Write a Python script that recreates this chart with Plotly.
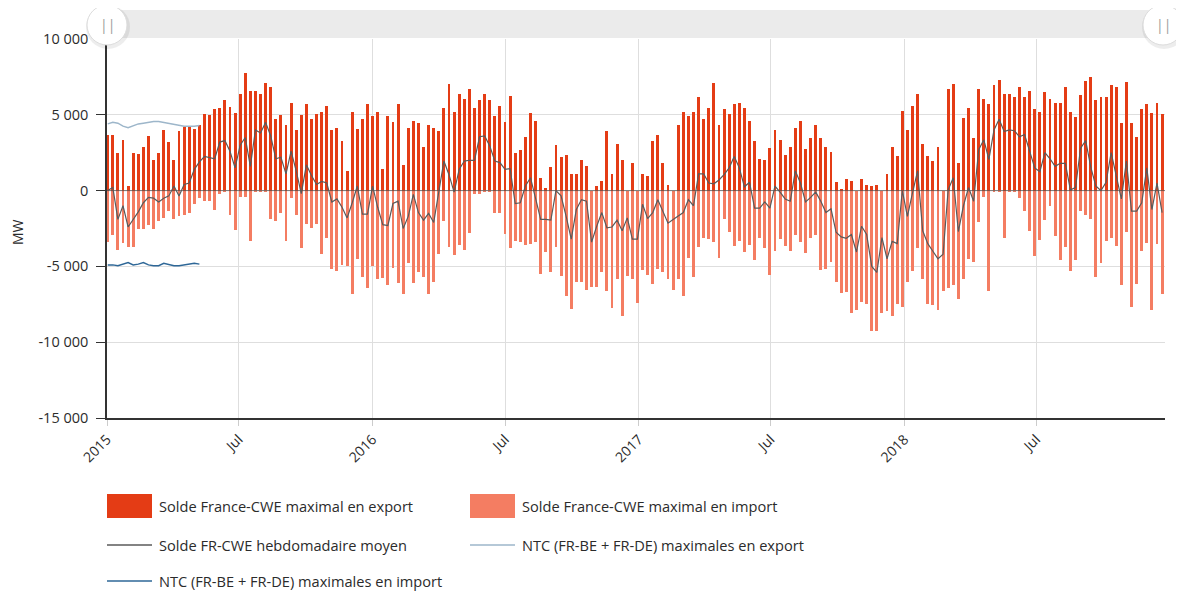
import pandas as pd
import plotly.graph_objects as go

# ---------------- data (MW, weekly from early Jan 2015) ----------------
week_start = "2015-01-02"
n_weeks = 208

export_k = [3.7, 3.7, 2.45, 3.35, 0.3, 2.5, 2.4, 2.9, 3.6, 2.0, 2.45, 4.0, 3.2, 2.0, 3.9, 4.2, 4.2, 4.05, 4.3, 5.05,
            5.0, 5.35, 5.45, 5.95, 5.5, 5.15, 6.4, 7.75, 6.6, 6.6, 6.4, 7.1, 6.85, 4.7, 5.0, 4.3, 5.75, 4.0, 5.0, 5.7,
            4.7, 5.05, 5.2, 5.55, 4.0, 4.15, 3.3, 1.3, 5.2, 4.05, 4.7, 5.7, 4.95, 5.2, 1.45, 4.95, 4.5, 5.7, 1.7, 4.1,
            4.6, 4.45, 2.9, 4.35, 4.1, 3.9, 5.45, 7.05, 5.2, 6.35, 6.05, 6.7, 5.45, 5.95, 6.4, 5.95, 4.9, 5.6, 4.55, 6.25,
            2.45, 2.65, 3.55, 5.1, 4.6, 0.85, 0.2, 1.55, 3.0, 2.2, 2.35, 1.1, 1.1, 2.05, 1.65, 0.0, 0.3, 0.65, 3.9, 1.1,
            3.1, 2.05, 0.0, 1.8, 0.0, 1.1, 0.95, 3.3, 3.7, 1.8, 0.35, 0.0, 4.3, 5.2, 4.9, 5.2, 6.15, 4.7, 5.45, 7.1,
            4.35, 5.35, 5.05, 5.7, 5.75, 5.45, 4.6, 3.3, 2.1, 2.05, 2.8, 4.0, 3.35, 2.35, 2.9, 4.15, 4.6, 2.75, 3.5, 4.35,
            3.5, 2.9, 2.55, 0.55, 0.1, 0.75, 0.65, 0.0, 0.75, 0.4, 0.3, 0.35, 0.0, 1.1, 2.9, 2.3, 5.25, 4.0, 5.6, 6.4,
            3.05, 2.3, 1.95, 2.9, 0.0, 6.7, 7.05, 1.8, 4.8, 5.45, 3.45, 6.7, 6.05, 5.7, 6.95, 7.3, 6.4, 6.4, 6.15, 6.85,
            6.2, 6.6, 5.4, 5.2, 6.5, 6.05, 5.75, 5.75, 6.85, 5.2, 4.85, 6.3, 7.2, 7.5, 5.95, 6.15, 6.15, 6.95, 6.85, 4.45,
            7.15, 4.45, 3.55, 5.4, 5.7, 5.15, 5.75, 5.05]

import_k = [-3.4, -2.9, -3.9, -3.45, -3.75, -3.7, -2.55, -2.5, -2.3, -2.5, -2.0, -1.8, -1.35, -1.9, -1.7, -1.6, -1.5, -0.9, -0.5, -0.7,
            -0.7, -1.25, -0.2, -0.1, -1.6, -2.6, -0.4, -0.4, -3.3, -0.1, -0.05, -0.1, -1.9, -2.0, -1.5, -3.3, -0.5, -1.6, -3.8, -2.2,
            -2.45, -2.2, -4.2, -3.15, -5.2, -5.3, -4.9, -5.0, -6.85, -4.5, -5.7, -6.4, -5.0, -5.8, -5.75, -6.2, -5.1, -6.1, -6.8, -4.75,
            -6.1, -5.4, -5.7, -6.8, -6.0, -4.15, -2.0, -3.7, -4.25, -3.6, -3.9, -2.8, -0.25, -0.2, -0.05, -0.05, -1.5, -1.5, -2.85, -3.8,
            -3.3, -3.4, -3.6, -3.5, -3.4, -5.5, -4.05, -5.4, -3.7, -5.6, -6.95, -7.8, -6.05, -6.0, -6.55, -6.35, -6.35, -5.4, -6.6, -7.75,
            -5.85, -8.3, -5.65, -5.85, -7.4, -5.25, -5.55, -6.15, -5.15, -5.4, -5.85, -6.55, -5.8, -6.95, -4.45, -5.7, -3.7, -3.1, -3.2, -3.4,
            -4.45, -1.9, -2.7, -3.65, -3.3, -4.05, -3.6, -4.55, -3.1, -3.8, -5.55, -4.0, -3.2, -3.65, -4.0, -2.95, -3.4, -4.1, -3.1, -2.95,
            -5.25, -5.15, -4.7, -6.05, -6.75, -6.7, -8.05, -7.85, -7.35, -7.5, -9.25, -9.25, -8.1, -7.95, -8.25, -7.5, -7.7, -6.05, -5.3, -3.8,
            -5.85, -7.5, -7.55, -7.85, -6.65, -6.4, -6.2, -7.15, -5.85, -4.5, -4.7, -2.1, -0.45, -6.65, -0.05, -0.05, -3.15, -0.05, -0.05, -0.5,
            -1.35, -2.65, -4.3, -3.25, -1.95, -1.0, -3.0, -4.6, -3.7, -5.3, -4.55, -1.35, -1.6, -1.85, -5.7, -4.75, -3.35, -3.15, -3.65, -6.25,
            -2.7, -7.65, -6.15, -4.0, -3.45, -7.85, -3.5, -6.85]

average_k = [0.0, 0.2, -1.9, -1.0, -2.4, -1.9, -1.4, -0.8, -0.45, -0.5, -0.75, -0.5, -0.35, 0.3, -0.35, 0.4, 0.5, 1.4, 1.9, 2.25,
             2.15, 2.1, 3.2, 3.3, 2.6, 1.5, 3.0, 3.5, 1.6, 4.0, 3.8, 4.5, 3.6, 2.1, 2.2, 1.1, 2.6, 1.3, -0.2, 1.7,
             1.0, 0.4, 0.6, 0.5, -0.75, -0.55, -1.1, -1.8, -0.8, 0.3, -1.55, -1.55, 0.3, -1.1, -2.25, -2.3, -0.85, -0.7, -2.5, -1.7,
             -0.25, -1.45, -1.95, -1.5, -2.1, 0.0, 1.95, 1.05, -0.1, 1.4, 1.95, 2.0, 2.0, 3.55, 3.6, 2.95, 1.95, 1.85, 1.4, 1.45,
             -0.85, -0.8, 0.3, 0.85, -0.6, -1.9, -1.9, -1.95, 0.0, -0.35, -1.7, -3.2, -1.25, -0.6, -0.7, -3.4, -2.35, -1.45, -2.45, -2.4,
             -1.95, -2.65, -1.8, -3.2, -3.2, -0.9, -1.85, -1.45, -0.6, -1.35, -2.15, -1.9, -1.7, -1.45, -0.6, -1.0, 1.1, 1.1, 0.5, 0.45,
             0.7, 1.05, 1.5, 2.25, 1.5, 0.25, 0.55, -1.15, -1.15, -0.75, -1.15, 0.3, -0.1, -0.55, -0.7, 1.3, 0.5, -0.75, -0.45, -0.1,
             -0.7, -1.45, -1.2, -2.75, -3.05, -3.15, -2.9, -4.05, -2.35, -2.9, -5.0, -5.4, -3.1, -4.5, -3.35, -3.5, 0.0, -1.7, -0.15, 1.3,
             -2.65, -3.5, -4.0, -4.5, -4.2, 0.05, 0.85, -2.7, -1.0, 0.2, -0.7, 2.7, 3.35, 2.05, 4.0, 4.7, 3.9, 4.0, 3.95, 3.55,
             3.7, 2.6, 1.5, 1.25, 2.5, 2.1, 1.6, 1.8, 1.8, 0.05, 0.2, 2.8, 3.3, 1.55, 0.3, 0.0, 0.55, 2.5, 0.95, -0.55,
             1.95, -1.35, -1.35, -0.8, 1.5, -1.25, 0.5, -1.45]

ntc_export_k = [4.4, 4.5, 4.45, 4.25, 4.15, 4.3, 4.4, 4.45, 4.5, 4.55, 4.55, 4.5, 4.45, 4.35, 4.3, 4.25, 4.25, 4.25, 4.3]
ntc_import_k = [-4.9, -4.9, -4.95, -4.85, -4.75, -4.9, -4.85, -4.75, -4.9, -4.95, -4.95, -4.8, -4.9, -4.95, -4.95, -4.9, -4.85, -4.8, -4.85]

series_names = ["Solde France-CWE maximal en export", "Solde France-CWE maximal en import",
                "Solde FR-CWE hebdomadaire moyen", "NTC (FR-BE + FR-DE) maximales en export",
                "NTC (FR-BE + FR-DE) maximales en import"]

x_tick_dates = ["2015-01-01", "2015-07-01", "2016-01-01", "2016-07-01", "2017-01-01",
                "2017-07-01", "2018-01-01", "2018-07-01"]
x_tick_labels = ["2015", "Jul", "2016", "Jul", "2017", "Jul", "2018", "Jul"]
y_tick_vals = [-15000, -10000, -5000, 0, 5000, 10000]
y_tick_labels = ["-15 000", "-10 000", "-5 000", "0", "5 000", "10 000"]

# ---------------- styling ----------------
C_EXP = "#e43c15"
C_IMP = "#f47d62"
C_AVG = "#5a5a5a"
C_NTC_EXP = "#9db6ca"
C_NTC_IMP = "#2e6797"
FONT = "Open Sans"
TXT = "#2b2b2b"

dates = pd.date_range(week_start, periods=n_weeks, freq="7D")
export_mw = [v * 1000 for v in export_k]
import_mw = [v * 1000 for v in import_k]
avg_mw = [v * 1000 for v in average_k]
ntc_exp_mw = [v * 1000 for v in ntc_export_k]
ntc_imp_mw = [v * 1000 for v in ntc_import_k]

bar_w = 4 * 86400000

fig = go.Figure()
fig.add_trace(go.Bar(x=dates, y=export_mw, width=bar_w, marker=dict(color=C_EXP, line=dict(width=0)),
                     name=series_names[0], showlegend=False))
fig.add_trace(go.Bar(x=dates, y=import_mw, width=bar_w, marker=dict(color=C_IMP, line=dict(width=0)),
                     name=series_names[1], showlegend=False))
fig.add_trace(go.Scatter(x=dates, y=avg_mw, mode="lines", line=dict(color=C_AVG, width=1.2),
                         name=series_names[2], showlegend=False))
fig.add_trace(go.Scatter(x=dates[:len(ntc_exp_mw)], y=ntc_exp_mw, mode="lines",
                         line=dict(color=C_NTC_EXP, width=1.5), name=series_names[3], showlegend=False))
fig.add_trace(go.Scatter(x=dates[:len(ntc_imp_mw)], y=ntc_imp_mw, mode="lines",
                         line=dict(color=C_NTC_IMP, width=1.5), name=series_names[4], showlegend=False))

# page has an 8px body margin: figure is sized so that the plot area lands at page x 107..1165, y 39..418
OFF = 8
W, H = 1184 - OFF, 593 - OFF
PL, PR, PT, PB = 107, 1165, 39, 418          # plot area in page pixels
ML, MT = PL - OFF, PT - OFF
MR, MB = W - (PR - OFF), H - (PB - OFF)
PW, PH = PR - PL, PB - PT


def px_x(px):
    return (px - PL) / PW


def px_y(py):
    return (PB - py) / PH


shapes = []
annotations = []

# zero line drawn over the bars
shapes.append(dict(type="line", xref="paper", yref="y", x0=0, x1=1, y0=0, y1=0,
                   line=dict(color="rgba(85,85,85,0.75)", width=1), layer="above"))

# navigator bar at top
shapes.append(dict(type="rect", xref="paper", yref="paper", x0=0, x1=1, y0=px_y(38), y1=px_y(10),
                   fillcolor="#ebebeb", line=dict(width=0), layer="above"))
for cx in (107, 1163):
    shapes.append(dict(type="circle", xref="paper", yref="paper", xsizemode="pixel", ysizemode="pixel",
                       xanchor=px_x(cx + 1), yanchor=px_y(27), x0=-22, x1=22, y0=-22, y1=22,
                       fillcolor="rgba(0,0,0,0.07)", line=dict(width=0), layer="above"))
    shapes.append(dict(type="circle", xref="paper", yref="paper", xsizemode="pixel", ysizemode="pixel",
                       xanchor=px_x(cx), yanchor=px_y(25), x0=-20, x1=20, y0=-20, y1=20,
                       fillcolor="white", line=dict(color="#dcdcdc", width=1), layer="above"))
    annotations.append(dict(text="||", x=px_x(cx), y=px_y(25), xref="paper", yref="paper",
                            showarrow=False, font=dict(family=FONT, size=14, color="#9a9a9a"),
                            xanchor="center", yanchor="middle"))

# custom legend
legend_items = [
    (series_names[0], "box", C_EXP, 107, 506),
    (series_names[1], "box", C_IMP, 470, 506),
    (series_names[2], "line", C_AVG, 107, 545),
    (series_names[3], "line", C_NTC_EXP, 470, 545),
    (series_names[4], "line", C_NTC_IMP, 107, 581),
]
for name, kind, col, lx, ly in legend_items:
    if kind == "box":
        shapes.append(dict(type="rect", xref="paper", yref="paper", xsizemode="pixel", ysizemode="pixel",
                           xanchor=px_x(lx), yanchor=px_y(ly), x0=0, x1=45, y0=-12, y1=12,
                           fillcolor=col, line=dict(width=0)))
    else:
        shapes.append(dict(type="line", xref="paper", yref="paper", xsizemode="pixel", ysizemode="pixel",
                           xanchor=px_x(lx), yanchor=px_y(ly), x0=0, x1=45, y0=0, y1=0,
                           line=dict(color=col, width=1.3)))
    annotations.append(dict(text=name, x=px_x(lx + 50), y=px_y(ly), xref="paper", yref="paper",
                            showarrow=False, xanchor="left", yanchor="middle",
                            font=dict(family=FONT, size=14.6, color=TXT)))

annotations.append(dict(text="MW", textangle=-90, x=px_x(17), y=px_y(232), xref="paper", yref="paper",
                        showarrow=False, xanchor="center", yanchor="middle",
                        font=dict(family=FONT, size=14, color=TXT)))

fig.update_layout(
    width=W, height=H,
    margin=dict(l=ML, r=MR, t=MT, b=MB, autoexpand=False),
    paper_bgcolor="white", plot_bgcolor="white",
    barmode="overlay", bargap=0,
    font=dict(family=FONT, size=13, color=TXT),
    showlegend=False,
    shapes=shapes, annotations=annotations,
    xaxis=dict(type="date", range=["2015-01-01", "2018-12-25"], tickvals=x_tick_dates, ticktext=x_tick_labels,
               tickangle=-45, showgrid=True, gridcolor="#dedede", gridwidth=1,
               showline=True, linecolor="#333333", linewidth=1.5, ticks="outside", ticklen=6,
               tickcolor="#cccccc", tickfont=dict(family=FONT, size=14, color=TXT), zeroline=False),
    yaxis=dict(range=[-15000, 10000], tickvals=y_tick_vals, ticktext=y_tick_labels,
               showgrid=True, gridcolor="#dedede", gridwidth=1,
               zeroline=False,
               showline=True, linecolor="#333333", linewidth=1.5, ticks="outside", ticklen=9,
               tickcolor="#333333", tickfont=dict(family=FONT, size=14.5, color=TXT), ticklabelstandoff=5),
)

fig.write_html("out.html")
